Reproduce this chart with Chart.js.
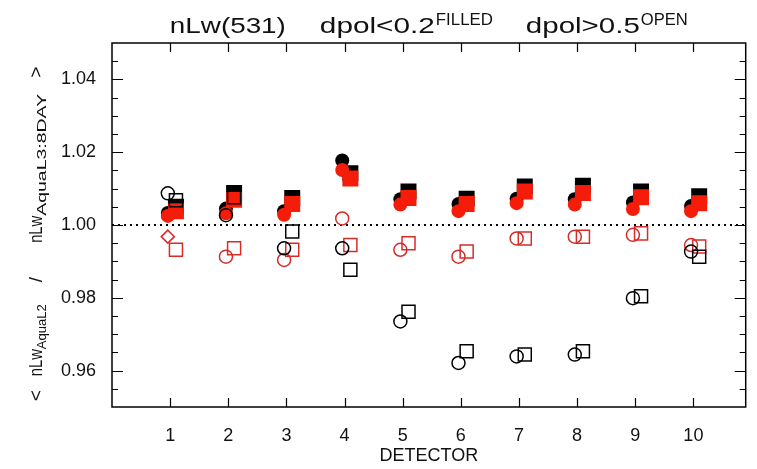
<!DOCTYPE html>
<html>
<head>
<meta charset="utf-8">
<script src="https://cdn.jsdelivr.net/npm/chart.js@4.4.0/dist/chart.umd.min.js"></script>
<style>
  html, body { margin: 0; padding: 0; background: #fff; }
  canvas { display: block; }
</style>
</head>
<body>
<canvas id="myChart" width="757" height="469"></canvas>
<script>
//////////////////////
// data
//////////////////////
const detectors = [1, 2, 3, 4, 5, 6, 7, 8, 9, 10];
const yTickValues = [0.96, 0.98, 1.00, 1.02, 1.04];

// dpol < 0.2 (filled)
const filledBlackCircle = [1.0033, 1.0045, 1.0038, 1.0177, 1.0071, 1.0058, 1.0072, 1.0071, 1.0062, 1.0052];
const filledRedCircle = [1.0025, 1.0032, 1.0028, 1.0151, 1.0056, 1.0038, 1.0060, 1.0056, 1.0044, 1.0038];
const filledBlackSquare = [1.0050, 1.0088, 1.0074, 1.0142, 1.0092, 1.0072, 1.0106, 1.0108, 1.0092, 1.0079];
const filledRedSquare = [1.0038, 1.0069, 1.0058, 1.0128, 1.0074, 1.0058, 1.0092, 1.0088, 1.0076, 1.0060];

// dpol > 0.5 (open)
const openBlackCircle = [1.0087, 1.0027, 0.9936, 0.9936, 0.9735, 0.9621, 0.9639, 0.9644, 0.9799, 0.9927];
const openBlackSquare = [1.0068, 1.0076, 0.9982, 0.9877, 0.9762, 0.9653, 0.9644, 0.9653, 0.9804, 0.9913];
const openRedCircle = [0.9968, 0.9913, 0.9904, 1.0018, 0.9932, 0.9913, 0.9963, 0.9968, 0.9973, 0.9945];
const openRedSquare = [0.9932, 0.9936, 0.9932, 0.9945, 0.9950, 0.9927, 0.9963, 0.9968, 0.9977, 0.9941];

const referenceValue = 1.00;

//////////////////////
// look
//////////////////////
const FONT = '"Liberation Sans", Arial, sans-serif';
const INK = '#111';
const RED = 'rgb(245, 28, 10)';
const OPEN_RED = 'rgb(214, 44, 40)';
const xMin = 0;
const xMax = 10.9;
const yMin = 0.95;
const yMax = 1.05;
const circleShift = -0.04;
const squareShift = 0.1;

function points(values, shift) {
  return values.map((v, i) => ({ x: detectors[i] + shift, y: v }));
}

function filledSet(label, values, shape, color, shift, radius) {
  return {
    label: label,
    data: points(values, shift),
    pointStyle: shape,
    pointRadius: radius,
    backgroundColor: color,
    borderColor: color,
    borderWidth: 0,
    showLine: false
  };
}

function openSet(label, values, shape, color, shift, radius) {
  return {
    label: label,
    data: points(values, shift),
    pointStyle: shape,
    pointRadius: radius,
    backgroundColor: 'rgba(0,0,0,0)',
    borderColor: color,
    borderWidth: 1.5,
    showLine: false
  };
}

// draws text squeezed/stretched to a given width (the original uses a wide vector font)
// width null = natural width
function drawStretched(ctx, text, x, y, width, size) {
  ctx.font = size + 'px ' + FONT;
  const w = ctx.measureText(text).width;
  ctx.save();
  ctx.translate(x, y);
  if (width) ctx.scale(width / w, 1);
  ctx.fillText(text, 0, 0);
  ctx.restore();
  return width || w;
}

function pieceWidth(ctx, p) {
  if (p.width) return p.width;
  ctx.font = p.size + 'px ' + FONT;
  return ctx.measureText(p.text).width;
}

function piecesWidth(ctx, pieces) {
  let total = 0;
  for (let i = 0; i < pieces.length; i++) {
    total += pieceWidth(ctx, pieces[i]) + (i < pieces.length - 1 ? pieces[i].gap : 0);
  }
  return total;
}

function drawPieces(ctx, pieces, start, baseline) {
  let x = start;
  for (let i = 0; i < pieces.length; i++) {
    const p = pieces[i];
    const w = drawStretched(ctx, p.text, x, baseline + p.shiftY, p.width, p.size);
    x += w + p.gap;
  }
}

const titlePieces = [
  { text: 'nLw(531)', size: 22, width: 116, gap: 34, shiftY: 0 },
  { text: 'dpol<0.2', size: 22, width: 115, gap: 1, shiftY: 0 },
  { text: 'FILLED', size: 17, width: 57, gap: 33, shiftY: -8 },
  { text: 'dpol>0.5', size: 22, width: 114, gap: 1, shiftY: 0 },
  { text: 'OPEN', size: 17, width: 47, gap: 0, shiftY: -8 }
];

const yLabelPieces = [
  { text: '<', size: 19, width: null, gap: 14, shiftY: 0 },
  { text: 'nLw', size: 19, width: 27, gap: 0, shiftY: 0 },
  { text: 'AquaL2', size: 13, width: 45, gap: 22, shiftY: 4 },
  { text: '/', size: 19, width: null, gap: 34, shiftY: 0 },
  { text: 'nLw', size: 19, width: 27, gap: 0, shiftY: 0 },
  { text: 'AquaL3:8DAY', size: 13, width: 122, gap: 16, shiftY: 4 },
  { text: '>', size: 19, width: null, gap: 0, shiftY: 0 }
];

const framePlugin = {
  id: 'frame',
  afterDraw(chart) {
    const ctx = chart.ctx;
    const area = chart.chartArea;
    const xs = chart.scales.x;
    const ys = chart.scales.y;
    ctx.save();
    ctx.strokeStyle = '#000';
    ctx.lineWidth = 1.5;
    ctx.strokeRect(area.left, area.top, area.right - area.left, area.bottom - area.top);

    ctx.lineWidth = 1.2;
    ctx.beginPath();
    // y ticks, both sides, pointing inward
    for (let v = yMin + 0.005; v < yMax - 0.001; v += 0.005) {
      const py = Math.round(ys.getPixelForValue(v)) + 0.5;
      const major = yTickValues.some(t => Math.abs(t - v) < 0.001);
      const len = major ? 11 : 6;
      ctx.moveTo(area.left, py);
      ctx.lineTo(area.left + len, py);
      ctx.moveTo(area.right, py);
      ctx.lineTo(area.right - len, py);
    }
    // x ticks, top and bottom
    for (let i = 0; i < detectors.length; i++) {
      const px = Math.round(xs.getPixelForValue(detectors[i])) + 0.5;
      ctx.moveTo(px, area.bottom);
      ctx.lineTo(px, area.bottom - 9);
      ctx.moveTo(px, area.top);
      ctx.lineTo(px, area.top + 9);
    }
    ctx.stroke();

    // title with superscripts
    ctx.fillStyle = INK;
    ctx.textBaseline = 'alphabetic';
    ctx.textAlign = 'left';
    const cx = (area.left + area.right) / 2;
    drawPieces(ctx, titlePieces, cx - piecesWidth(ctx, titlePieces) / 2, 33);

    // rotated y axis title with subscripts
    ctx.save();
    ctx.translate(42, (area.top + area.bottom) / 2 + 9);
    ctx.rotate(-Math.PI / 2);
    drawPieces(ctx, yLabelPieces, -piecesWidth(ctx, yLabelPieces) / 2, 0);
    ctx.restore();

    ctx.restore();
  }
};

function renderChart() {
  const datasets = [
    openSet('open black square', openBlackSquare, 'rect', '#000', squareShift, 9.2),
    openSet('open black circle', openBlackCircle, 'circle', '#000', circleShift, 6.5),
    openSet('open red square', openRedSquare, 'rect', OPEN_RED, squareShift, 9.2),
    openSet('open red circle', openRedCircle, 'circle', OPEN_RED, circleShift, 6.5),
    filledSet('filled red circle', filledRedCircle, 'circle', RED, circleShift, 7),
    filledSet('filled red square', filledRedSquare, 'rect', RED, squareShift, 11.3),
    filledSet('filled black circle', filledBlackCircle, 'circle', '#000', circleShift, 7),
    filledSet('filled black square', filledBlackSquare, 'rect', '#000', squareShift, 11.3),
    {
      type: 'line',
      label: 'reference',
      data: [{ x: xMin, y: referenceValue }, { x: xMax, y: referenceValue }],
      borderColor: '#000',
      borderWidth: 2,
      borderDash: [2, 4],
      pointRadius: 0,
      order: 10
    }
  ];
  // the first red open marker is drawn as a diamond in the original
  datasets[3].pointStyle = (c) => (c.dataIndex === 0 ? 'rectRot' : 'circle');

  const config = {
    type: 'scatter',
    data: { datasets: datasets },
    options: {
      responsive: false,
      animation: false,
      devicePixelRatio: 1,
      layout: { padding: { left: 0, right: 10, top: 43, bottom: 0 } },
      plugins: { legend: { display: false }, tooltip: { enabled: false } },
      scales: {
        x: {
          type: 'linear',
          min: xMin,
          max: xMax,
          afterFit: (s) => { s.height = 62; },
          afterBuildTicks: (s) => { s.ticks = detectors.map(v => ({ value: v })); },
          grid: { display: false },
          border: { display: false },
          ticks: {
            color: INK,
            font: { family: FONT, size: 18 },
            padding: 10,
            maxRotation: 0,
            autoSkip: false
          },
          title: {
            display: true,
            text: 'DETECTOR',
            color: INK,
            font: { family: FONT, size: 18 },
            padding: { top: 0, bottom: 2 }
          }
        },
        y: {
          type: 'linear',
          min: yMin,
          max: yMax,
          afterFit: (s) => { s.width = 112; },
          afterBuildTicks: (s) => { s.ticks = yTickValues.map(v => ({ value: v })); },
          grid: { display: false },
          border: { display: false },
          ticks: {
            color: INK,
            font: { family: FONT, size: 18 },
            padding: 8,
            callback: (v) => Number(v).toFixed(2)
          }
        }
      }
    },
    plugins: [framePlugin]
  };

  const canvasChart = document.getElementById('myChart');
  new Chart(canvasChart, config);
}

renderChart();
</script>
</body>
</html>
